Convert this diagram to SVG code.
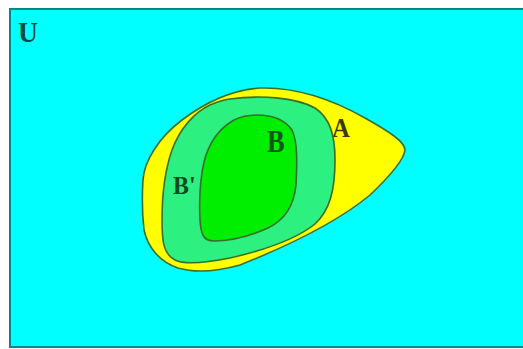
<svg xmlns="http://www.w3.org/2000/svg" width="523" height="349" viewBox="0 0 523 349">
<style>
.lbl{font-family:"Liberation Serif","Times New Roman",serif;font-weight:bold}
.edge{stroke:#3a6e2a;stroke-width:1.6;stroke-linejoin:round}
</style>
<rect x="0" y="0" width="523" height="349" fill="#ffffff"/>
<g id="U">
<rect x="10" y="9" width="520" height="338" fill="#00ffff" stroke="#00898a" stroke-width="2"/>
<text class="lbl" x="18" y="42" font-size="30" fill="#064a44" transform="translate(18 42) scale(0.92 1) translate(-18 -42)">U</text>
</g>
<g id="A">
<path class="edge" fill="#ffff00" d="M143,180 C144,162 158,138 182,120 C207,101 232,90 260,88 C295,87 330,98 365,118 C390,132 405,142 405,150 C404,160 390,176 370,195 C340,220 290,245 240,265 C215,272 195,273 178,268 C160,262 148,248 144,230 C142,212 142,195 143,180 Z"/>
<text class="lbl" x="332" y="137" font-size="28" fill="#3a3a00" transform="translate(332 137) scale(0.88 1) translate(-332 -137)">A</text>
</g>
<g id="Bprime">
<path class="edge" fill="#2cf080" d="M230,99 C260,95 295,97 315,108 C330,118 335,135 335,160 C335,190 330,210 315,224 C295,240 265,250 230,258 C205,263 185,265 175,260 C163,254 162,240 162,220 C162,195 165,170 172,150 C180,128 195,112 210,105 C217,102 222,100 230,99 Z"/>
<text class="lbl" x="173" y="194" font-size="26" fill="#0f4a1e" transform="translate(173 194) scale(0.92 1) translate(-173 -194)">B'</text>
</g>
<g id="B">
<path class="edge" fill="#00ee00" d="M257,115 C272,115 285,120 292,130 C298,142 297,165 296,185 C294,205 285,220 268,228 C250,236 230,241 214,241 C203,241 201,234 200,220 C199,200 200,180 204,162 C209,142 220,128 234,120 C242,116 249,115 257,115 Z"/>
<text class="lbl" x="267" y="152" font-size="31" fill="#0a5a14" transform="translate(267 152) scale(0.85 1) translate(-267 -152)">B</text>
</g>
</svg>
